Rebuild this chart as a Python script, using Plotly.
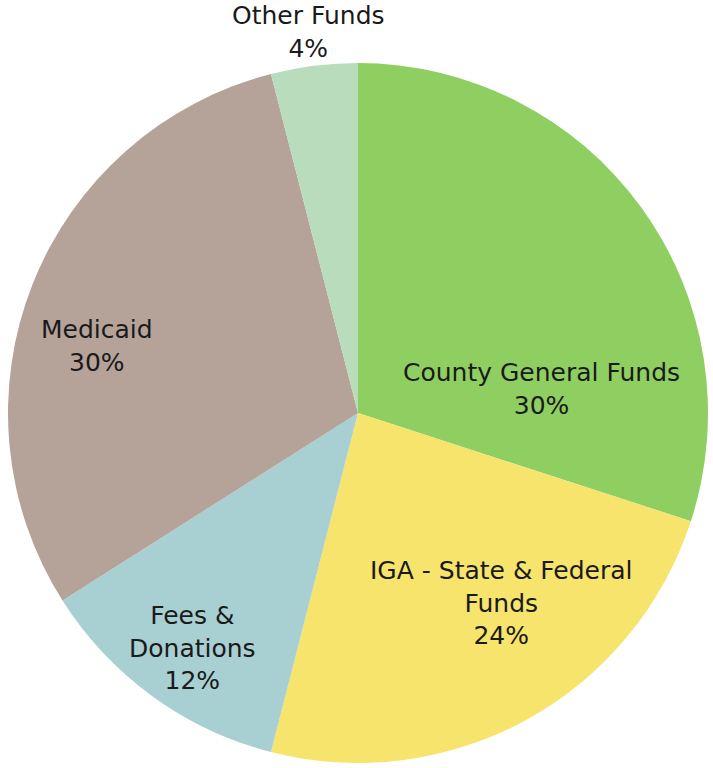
import plotly.graph_objects as go

# Funding sources, listed clockwise from 12 o'clock
sources = ["County General Funds", "IGA - State & Federal Funds", "Fees & Donations", "Medicaid", "Other Funds"]
shares = [30, 24, 12, 30, 4]
# How each source name is wrapped inside its label
label_lines = [["County General Funds"], ["IGA - State & Federal", "Funds"], ["Fees &", "Donations"], ["Medicaid"], ["Other Funds"]]

slice_colors = ["#8fcf62", "#f7e46c", "#a8cfd2", "#b5a298", "#b8dcbc"]

W, H = 713, 768
ML, MR, MT, MB = 8, 5, 63, 5
PW, PH = W - ML - MR, H - MT - MB

fig = go.Figure(go.Pie(
    labels=sources,
    values=shares,
    sort=False,
    direction="clockwise",
    rotation=0,
    textinfo="none",
    hoverinfo="label+percent",
    marker=dict(colors=slice_colors, line=dict(width=0)),
    showlegend=False,
))

# Label anchor points in page pixels (centre of each text block)
label_pos = [(541, 389), (501, 603), (192, 648), (97, 346), (308, 32)]
total = sum(shares)
for lines, v, (px, py) in zip(label_lines, shares, label_pos):
    pct = round(100 * v / total)
    text = "<br>".join(lines + [f"{pct}%"])
    fig.add_annotation(
        x=(px - ML) / PW, y=1 - (py - MT) / PH, xref="paper", yref="paper",
        text=text, showarrow=False, align="center",
        xanchor="center", yanchor="middle",
        font=dict(family="DejaVu Sans", size=25, color="#1a1a1a"),
    )

fig.update_layout(
    width=W, height=H,
    margin=dict(l=ML, r=MR, t=MT, b=MB),
    paper_bgcolor="white",
    plot_bgcolor="white",
)

fig.write_html("out.html")
